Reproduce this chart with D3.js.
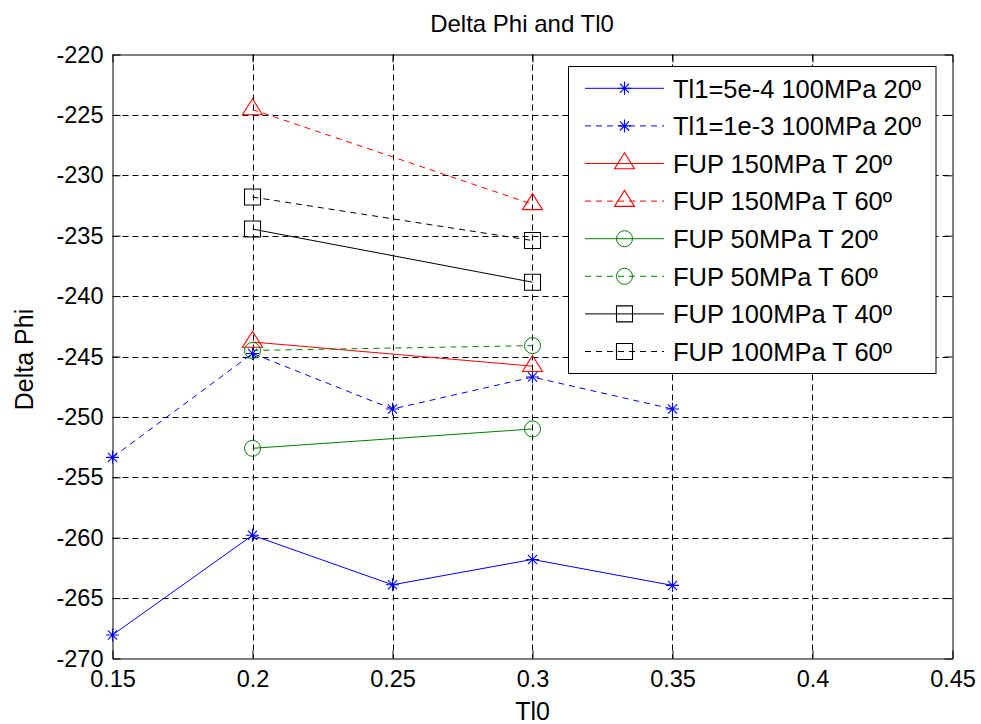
<!DOCTYPE html>
<html>
<head>
<meta charset="utf-8">
<script src="https://cdn.jsdelivr.net/npm/d3@7"></script>
<style>
  html, body { margin: 0; padding: 0; background: #fff; }
  svg { display: block; font-family: "Liberation Sans", Arial, Helvetica, sans-serif; }
</style>
</head>
<body>
<svg id="chart" width="981" height="724"></svg>
<script>
// ---- data ----
const xTicks = [0.15, 0.2, 0.25, 0.3, 0.35, 0.4, 0.45];
const xTickLabels = ["0.15", "0.2", "0.25", "0.3", "0.35", "0.4", "0.45"];
const yTicks = [-270, -265, -260, -255, -250, -245, -240, -235, -230, -225, -220];

const xA = [0.15, 0.2, 0.25, 0.3, 0.35];
const xB = [0.2, 0.3];

const tl1_5e4 = [-268.05, -259.8, -263.9, -261.8, -263.95];
const tl1_1e3 = [-253.35, -244.75, -249.35, -246.7, -249.35];
const fup150_20 = [-243.8, -245.8];
const fup150_60 = [-224.55, -232.4];
const fup50_20 = [-252.6, -251.0];
const fup50_60 = [-244.5, -244.1];
const fup100_40 = [-234.45, -238.85];
const fup100_60 = [-231.8, -235.4];

const seriesNames = [
  "Tl1=5e-4 100MPa 20º",
  "Tl1=1e-3 100MPa 20º",
  "FUP 150MPa T 20º",
  "FUP 150MPa T 60º",
  "FUP 50MPa T 20º",
  "FUP 50MPa T 60º",
  "FUP 100MPa T 40º",
  "FUP 100MPa T 60º"
];

const series = [
  { name: seriesNames[0], x: xA, y: tl1_5e4, color: "#0000ff", dash: null, marker: "star" },
  { name: seriesNames[1], x: xA, y: tl1_1e3, color: "#0000ff", dash: "6,5", marker: "star" },
  { name: seriesNames[2], x: xB, y: fup150_20, color: "#ff0000", dash: null, marker: "tri" },
  { name: seriesNames[3], x: xB, y: fup150_60, color: "#ff0000", dash: "6,5", marker: "tri" },
  { name: seriesNames[4], x: xB, y: fup50_20, color: "#008000", dash: null, marker: "circle" },
  { name: seriesNames[5], x: xB, y: fup50_60, color: "#008000", dash: "6,5", marker: "circle" },
  { name: seriesNames[6], x: xB, y: fup100_40, color: "#000000", dash: null, marker: "square" },
  { name: seriesNames[7], x: xB, y: fup100_60, color: "#000000", dash: "6,5", marker: "square" }
];

// ---- layout ----
const L = 112.5, R = 952.5, T = 54.5, B = 658.5;
const svg = d3.select("#chart");
svg.append("rect").attr("width", 981).attr("height", 724).attr("fill", "#fff");

const x = d3.scaleLinear().domain([0.15, 0.45]).range([L, R]);
const y = d3.scaleLinear().domain([-270, -220]).range([B, T]);

// grid
const grid = svg.append("g").attr("stroke", "#000").attr("stroke-width", 1)
  .attr("stroke-dasharray", "6,4").attr("fill", "none");
xTicks.slice(1, -1).forEach(v => {
  grid.append("line").attr("x1", Math.round(x(v)) + 0.5).attr("x2", Math.round(x(v)) + 0.5)
    .attr("y1", T).attr("y2", B);
});
yTicks.slice(1, -1).forEach(v => {
  grid.append("line").attr("x1", L).attr("x2", R)
    .attr("y1", Math.round(y(v)) + 0.5).attr("y2", Math.round(y(v)) + 0.5);
});

// axes
const tickFont = "23.5px";
const axB = svg.append("g").attr("transform", `translate(0,${B})`)
  .call(d3.axisBottom(x).tickValues(xTicks).tickFormat((d, i) => xTickLabels[i])
    .tickSizeInner(-8).tickSizeOuter(0).tickPadding(12));
const axL = svg.append("g").attr("transform", `translate(${L},0)`)
  .call(d3.axisLeft(y).tickValues(yTicks).tickFormat(d => String(d))
    .tickSizeInner(-8).tickSizeOuter(0).tickPadding(9));
const axT = svg.append("g").attr("transform", `translate(0,${T})`)
  .call(d3.axisTop(x).tickValues(xTicks).tickFormat("").tickSizeInner(-8).tickSizeOuter(0));
const axR = svg.append("g").attr("transform", `translate(${R},0)`)
  .call(d3.axisRight(y).tickValues(yTicks).tickFormat("").tickSizeInner(-8).tickSizeOuter(0));
[axB, axL, axT, axR].forEach(g => {
  g.selectAll("text").attr("font-size", tickFont).attr("fill", "#000")
    .attr("font-family", "'Liberation Sans', Arial, sans-serif");
  g.selectAll("line").attr("stroke", "#000");
  g.select(".domain").attr("stroke", "#000");
});

// markers
function markerPath(type) {
  if (type === "star") {
    const a = 6.5, b = 4.6;
    return `M0,${-a}V${a}M${-a},0H${a}M${-b},${-b}L${b},${b}M${-b},${b}L${b},${-b}`;
  }
  if (type === "tri") return "M0,-10.7L10,5.3L-10,5.3Z";
  if (type === "square") return "M-8,-8H8V8H-8Z";
  return null;
}
function drawMarker(g, type, cx, cy, color) {
  if (type === "circle") {
    g.append("circle").attr("cx", cx).attr("cy", cy).attr("r", 8)
      .attr("fill", "none").attr("stroke", color).attr("stroke-width", 1);
  } else {
    g.append("path").attr("d", markerPath(type)).attr("transform", `translate(${cx},${cy})`)
      .attr("fill", "none").attr("stroke", color).attr("stroke-width", 1.1);
  }
}

// series
const line = d3.line().x(d => x(d[0])).y(d => y(d[1]));
series.forEach(s => {
  const pts = s.x.map((xv, i) => [xv, s.y[i]]);
  const g = svg.append("g");
  g.append("path").attr("d", line(pts)).attr("fill", "none")
    .attr("stroke", s.color).attr("stroke-width", 1)
    .attr("stroke-dasharray", s.dash);
  pts.forEach(p => drawMarker(g, s.marker, x(p[0]), y(p[1]), s.color));
});

// title & labels
svg.append("text").attr("x", 522).attr("y", 32).attr("text-anchor", "middle")
  .attr("font-size", "24px").text("Delta Phi and Tl0");
svg.append("text").attr("x", (L + R) / 2).attr("y", 720).attr("text-anchor", "middle")
  .attr("font-size", "25px").text("Tl0");
svg.append("text").attr("transform", `translate(33,${(T + B) / 2 + 3}) rotate(-90)`)
  .attr("text-anchor", "middle").attr("font-size", "25px").text("Delta Phi");

// legend
const lg = svg.append("g");
lg.append("rect").attr("x", 568.5).attr("y", 66.5).attr("width", 367.5).attr("height", 307)
  .attr("fill", "#fff").attr("stroke", "#000").attr("stroke-width", 1);
series.forEach((s, i) => {
  const cy = 88.3 + i * 37.6;
  lg.append("line").attr("x1", 585).attr("x2", 664).attr("y1", cy).attr("y2", cy)
    .attr("stroke", s.color).attr("stroke-width", 1).attr("stroke-dasharray", s.dash);
  drawMarker(lg, s.marker, 624.5, cy, s.color);
  lg.append("text").attr("x", 673).attr("y", cy + 9.2).attr("font-size", "25.5px")
    .attr("fill", "#000").text(s.name);
});
</script>
</body>
</html>
